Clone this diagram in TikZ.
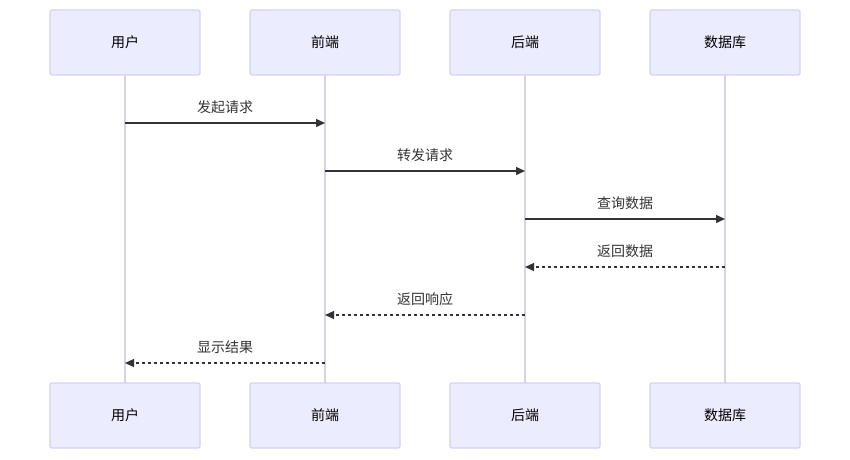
\documentclass[tikz,border=0pt]{standalone}
\usepackage{fontspec}
\setmainfont{Noto Sans CJK SC}
\usetikzlibrary{arrows.meta}
\definecolor{boxfill}{HTML}{ECECFF}
\definecolor{boxdraw}{HTML}{D6D0F5}
\definecolor{life}{HTML}{D6D0F5}
\definecolor{ink}{HTML}{333333}
\begin{document}
\begin{tikzpicture}[x=1pt,y=-1pt,
  actor/.style={draw=boxdraw,fill=boxfill,line width=1.2pt,rounded corners=2pt,minimum width=150pt,minimum height=65pt,inner sep=0pt,font=\fontsize{14}{16}\selectfont,text=black},
  lifeline/.style={draw=life,line width=1.5pt},
  msg/.style={draw=ink,line width=1.3pt,-{Triangle[length=9pt,width=8pt]}},
  reply/.style={msg,dash pattern=on 3pt off 3pt},
  lbl/.style={font=\fontsize{14}{16}\selectfont,text=ink}]
\useasboundingbox (0,0) rectangle (850,459);
\foreach \n/\x/\t in {u/125/用户,f/325/前端,b/525/后端,d/725/数据库}{
  \draw[lifeline] (\x,75) -- (\x,383);
  \node[actor] (\n1) at (\x,42.5) {\t};
  \node[actor] (\n2) at (\x,415.5) {\t};
}
\foreach \n/\x in {u/125,f/325,b/525,d/725}{
  \foreach \y in {123,171,219,267,315,363}{\coordinate (\n\y) at (\x,\y);}
}
\draw[msg] (u123) -- node[lbl,above=5pt]{发起请求} (f123);
\draw[msg] (f171) -- node[lbl,above=5pt]{转发请求} (b171);
\draw[msg] (b219) -- node[lbl,above=5pt]{查询数据} (d219);
\draw[reply] (d267) -- node[lbl,above=5pt]{返回数据} (b267);
\draw[reply] (b315) -- node[lbl,above=5pt]{返回响应} (f315);
\draw[reply] (f363) -- node[lbl,above=5pt]{显示结果} (u363);
\end{tikzpicture}
\end{document}
